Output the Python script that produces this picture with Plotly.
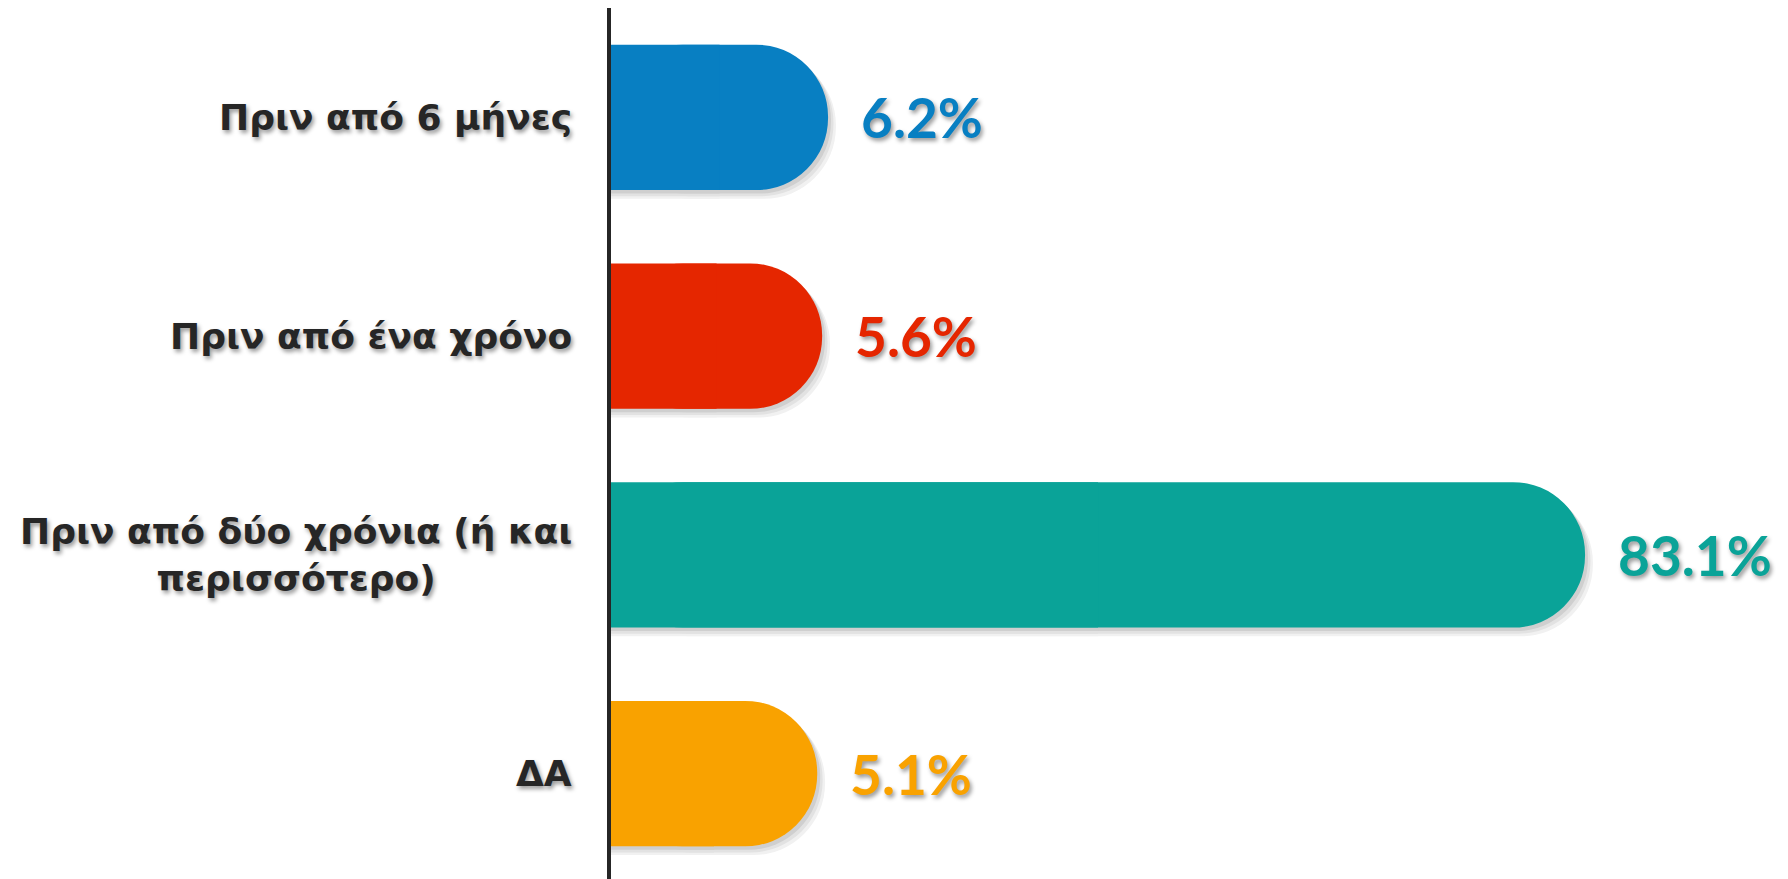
import plotly.graph_objects as go

categories = ["Πριν από 6 μήνες", "Πριν από ένα χρόνο",
              "Πριν από δύο χρόνια (ή και<br>περισσότερο)", "ΔΑ"]
values = [6.2, 5.6, 83.1, 5.1]
value_labels = ["6.2%", "5.6%", "83.1%", "5.1%"]
colors = ["#087FC2", "#E52600", "#0AA398", "#F9A200"]

XMIN = -15.85
XMAX = 104.53
BAR_W = 0.665

lengths = [v - XMIN for v in values]
half = [L / 2 for L in lengths]

fig = go.Figure()

# soft drop shadow layers, opaque greys (outer = lighter)
for dy, dx, grey in [(0.040, 0.8, "#F1F1F1"), (0.028, 0.55, "#E2E2E2"), (0.016, 0.3, "#CFCFCF")]:
    fig.add_trace(go.Bar(
        y=categories, x=lengths, base=[XMIN + dx] * len(values),
        orientation="h", width=BAR_W, offset=-BAR_W / 2 + dy,
        marker=dict(color=grey, cornerradius="50%", line_width=0),
        hoverinfo="skip", showlegend=False,
    ))
    fig.add_trace(go.Bar(
        y=categories, x=half, base=[XMIN] * len(values),
        orientation="h", width=BAR_W, offset=-BAR_W / 2 + dy,
        marker=dict(color=grey, line_width=0),
        hoverinfo="skip", showlegend=False,
    ))

# main bars: rounded right end
fig.add_trace(go.Bar(
    y=categories, x=lengths, base=[XMIN] * len(values),
    orientation="h", width=BAR_W, offset=-BAR_W / 2,
    marker=dict(color=colors, cornerradius="50%", line_width=0),
    showlegend=False,
))
# square left half so the bar sits flat against the axis
fig.add_trace(go.Bar(
    y=categories, x=half, base=[XMIN] * len(values),
    orientation="h", width=BAR_W, offset=-BAR_W / 2,
    marker=dict(color=colors, line_width=0),
    hoverinfo="skip", showlegend=False,
))

annotations = []
for cat, v, lab, c in zip(categories, values, value_labels, colors):
    annotations.append(dict(
        x=v, y=cat, xref="x", yref="y", text=lab, showarrow=False,
        xanchor="left", yanchor="middle", xshift=31,
        font=dict(family="Lato", size=55, color=c, weight="bold",
                  shadow="2px 3px 4px rgba(0,0,0,0.4)"),
    ))
    annotations.append(dict(
        x=0, y=cat, xref="paper", yref="y", text=cat, showarrow=False,
        xanchor="right", yanchor="middle", xshift=-37, align="center",
        font=dict(family="DejaVu Sans", size=36, color="#262626", weight="bold",
                  shadow="2px 3px 4px rgba(0,0,0,0.4)"),
    ))

fig.update_layout(
    width=1788, height=879,
    margin=dict(l=603, r=0, t=0, b=4),
    paper_bgcolor="white", plot_bgcolor="white",
    barmode="overlay",
    annotations=annotations,
    xaxis=dict(range=[XMIN, XMAX], visible=False, fixedrange=True),
    yaxis=dict(autorange="reversed", showticklabels=False, ticks="",
               showgrid=False, zeroline=False,
               showline=True, linewidth=4, linecolor="#262626"),
)

fig.write_html("out.html")
